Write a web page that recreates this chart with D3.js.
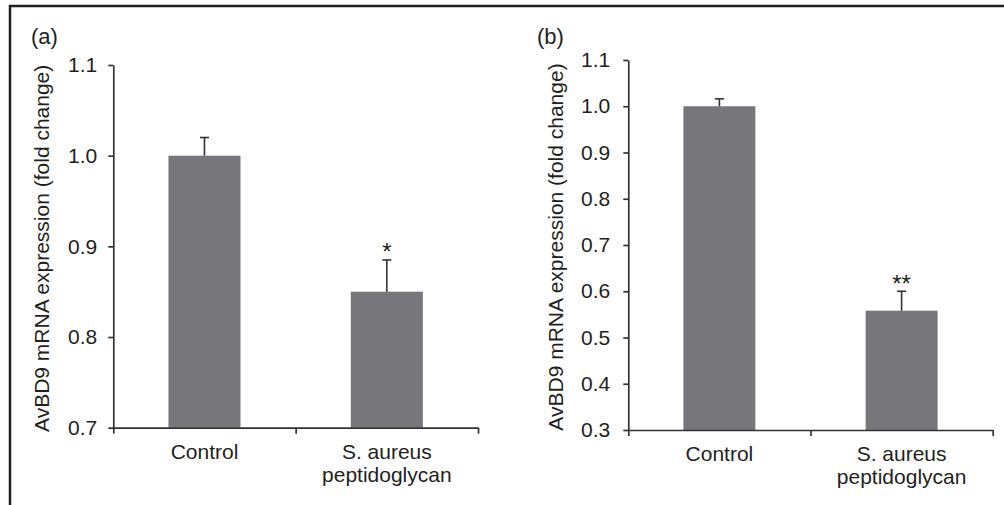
<!DOCTYPE html>
<html>
<head>
<meta charset="utf-8">
<script src="https://d3js.org/d3.v7.min.js"></script>
<style>
    body { margin: 0; background: #fff; }
    text { font-family: Arial, "Liberation Sans", sans-serif; fill: #231f20; }
    .axis path, .axis line { stroke: #333; stroke-width: 1.7; }
</style>
</head>
<body>
<script>
//bar chart data
var categories = ["Control", "S. aureus\npeptidoglycan"];

//panel (a)
var valuesA = [1.0, 0.85],
    errorsA = [0.02, 0.035],
    starsA = ["", "*"],
    ticksA = [0.7, 0.8, 0.9, 1.0, 1.1];

//panel (b)
var valuesB = [1.0, 0.558],
    errorsB = [0.016, 0.042],
    starsB = ["", "**"],
    ticksB = [0.3, 0.4, 0.5, 0.6, 0.7, 0.8, 0.9, 1.0, 1.1];

var yTitle = "AvBD9 mRNA expression (fold change)";

//begin script when window loads
window.onload = setChart();

function setChart(){

    var width = 1004,
        height = 505;

    var svg = d3.select("body")
        .append("svg")
        .attr("width", width)
        .attr("height", height);

    svg.append("rect")
        .attr("width", width)
        .attr("height", height)
        .attr("fill", "#fff");

    //frame lines along the top and left edges
    svg.append("path")
        .attr("d", "M10,505V6H1004")
        .attr("fill", "none")
        .attr("stroke", "#231f20")
        .attr("stroke-width", 2.5);

    drawPanel(svg, {
        label: "(a)", labelX: 31,
        left: 113.3, right: 478, top: 65, bottom: 427.7,
        titleX: 49, pad: 11,
        values: valuesA, errors: errorsA, stars: starsA, ticks: ticksA
    });

    drawPanel(svg, {
        label: "(b)", labelX: 537,
        left: 628.3, right: 992.7, top: 60, bottom: 430,
        titleX: 563, pad: 13,
        values: valuesB, errors: errorsB, stars: starsB, ticks: ticksB
    });
};

//draw one bar panel with its axes
function drawPanel(svg, p){

    var g = svg.append("g");

    var y = d3.scaleLinear()
        .domain([p.ticks[0], p.ticks[p.ticks.length - 1]])
        .range([p.bottom, p.top]);

    var x = d3.scaleBand()
        .domain(categories)
        .range([p.left, p.right])
        .paddingInner(0.605)
        .paddingOuter(0.3025);

    //category edges, used for the x-axis ticks between bars
    var xEdge = d3.scaleLinear()
        .domain([0, categories.length])
        .range([p.left, p.right]);

    var data = categories.map(function(c, i){
        return {cat: c, value: p.values[i], err: p.errors[i], star: p.stars[i]};
    });

    //bars
    g.selectAll(".bar")
        .data(data)
        .enter()
        .append("rect")
        .attr("class", "bar")
        .attr("x", function(d){ return x(d.cat); })
        .attr("width", x.bandwidth())
        .attr("y", function(d){ return y(d.value); })
        .attr("height", function(d){ return y(y.domain()[0]) - y(d.value); })
        .attr("fill", "#77777b");

    //upper error bars
    var err = g.selectAll(".err")
        .data(data)
        .enter()
        .append("g")
        .attr("class", "err")
        .attr("stroke", "#333")
        .attr("stroke-width", 1.6);

    err.append("line")
        .attr("x1", function(d){ return x(d.cat) + x.bandwidth() / 2; })
        .attr("x2", function(d){ return x(d.cat) + x.bandwidth() / 2; })
        .attr("y1", function(d){ return y(d.value); })
        .attr("y2", function(d){ return y(d.value + d.err); });

    err.append("line")
        .attr("x1", function(d){ return x(d.cat) + x.bandwidth() / 2 - 4.5; })
        .attr("x2", function(d){ return x(d.cat) + x.bandwidth() / 2 + 4.5; })
        .attr("y1", function(d){ return y(d.value + d.err); })
        .attr("y2", function(d){ return y(d.value + d.err); });

    //significance marks
    g.selectAll(".star")
        .data(data)
        .enter()
        .append("text")
        .attr("class", "star")
        .attr("x", function(d){ return x(d.cat) + x.bandwidth() / 2; })
        .attr("y", function(d){ return y(d.value + d.err) + 0.5; })
        .attr("text-anchor", "middle")
        .style("font-size", "24px")
        .text(function(d){ return d.star; });

    //y axis
    var yAxis = g.append("g")
        .attr("class", "axis")
        .attr("transform", "translate(" + p.left + ",0)")
        .call(d3.axisLeft(y)
            .tickValues(p.ticks)
            .tickSize(5)
            .tickSizeOuter(0)
            .tickPadding(p.pad)
            .tickFormat(d3.format(".1f")));
    yAxis.selectAll("text").style("font-size", "21px");

    //x axis with ticks at the category edges
    g.append("g")
        .attr("class", "axis")
        .attr("transform", "translate(0," + p.bottom + ")")
        .call(d3.axisBottom(xEdge)
            .tickValues(d3.range(categories.length + 1))
            .tickSize(6)
            .tickSizeOuter(0)
            .tickFormat(""));

    //category labels, split on line breaks
    var labels = g.selectAll(".catLabel")
        .data(categories)
        .enter()
        .append("text")
        .attr("class", "catLabel")
        .attr("text-anchor", "middle")
        .style("font-size", "21px")
        .attr("transform", function(d){
            return "translate(" + (x(d) + x.bandwidth() / 2) + "," + (p.bottom + 31) + ")";
        });

    labels.selectAll("tspan")
        .data(function(d){ return d.split("\n"); })
        .enter()
        .append("tspan")
        .attr("x", 0)
        .attr("dy", function(d, i){ return i == 0 ? 0 : 23; })
        .text(function(d){ return d; });

    //y axis title
    g.append("text")
        .attr("transform", "translate(" + p.titleX + "," + ((p.top + p.bottom) / 2 + 2) + ") rotate(-90)")
        .attr("text-anchor", "middle")
        .style("font-size", "21px")
        .text(yTitle);

    //panel label
    g.append("text")
        .attr("x", p.labelX)
        .attr("y", 44)
        .style("font-size", "22px")
        .text(p.label);
};
</script>
</body>
</html>
